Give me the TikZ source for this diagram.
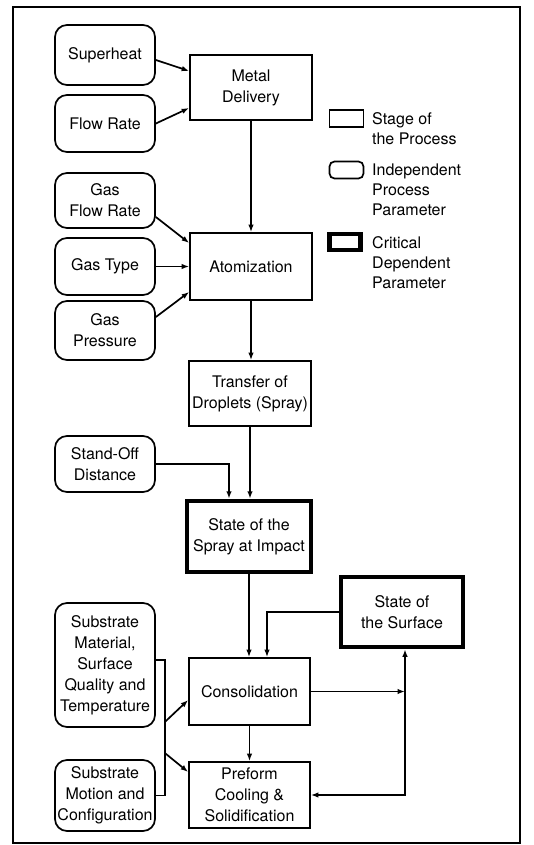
\documentclass[tikz,border=0pt]{standalone}
\usepackage{fontspec}
\setmainfont{TeX Gyre Heros}
\usetikzlibrary{arrows.meta,calc}
\begin{document}
\begin{tikzpicture}[x=1pt,y=-1pt,
  txt/.style={font=\fontsize{16}{21}\selectfont, align=center, inner sep=0pt},
  stagebox/.style={txt, draw, line width=1.7pt, outer sep=0.85pt, minimum width=121pt},
  parbox/.style={txt, draw, line width=1.7pt, outer sep=0.85pt, rounded corners=12pt, minimum width=100pt},
  critbox/.style={txt, draw, line width=4.5pt, outer sep=2.25pt, minimum width=122pt},
  conn/.style={line width=1.7pt},
  arr/.style={conn, -{Latex[length=7.5pt,width=5.5pt]}},
  legtext/.style={font=\fontsize{16}{20}\selectfont, align=left, inner sep=0pt, anchor=north west}]
\useasboundingbox (0,0) rectangle (534,845);
\draw[line width=1.7pt] (13,7) rectangle (520,843);

% independent parameters
\node[parbox, minimum height=60pt] (sh) at (105,55) {Superheat};
\node[parbox, minimum height=57pt] (fr) at (105,123.5) {Flow Rate};
\node[parbox, minimum height=55pt] (gfr) at (105,200.5) {Gas\\Flow Rate};
\node[parbox, minimum height=57pt] (gt) at (105,266.5) {Gas Type};
\node[parbox, minimum height=59pt] (gp) at (105,330.5) {Gas\\Pressure};
\node[parbox, minimum height=56pt] (so) at (105,464) {Stand-Off\\Distance};
\node[parbox, minimum height=124pt] (sm) at (105,665) {Substrate\\Material,\\Surface\\Quality and\\Temperature};
\node[parbox, minimum height=71pt] (smo) at (105,795.5) {Substrate\\Motion and\\Configuration};

% stages
\node[stagebox, minimum width=122pt, minimum height=65pt] (md) at (251,87.5) {Metal\\Delivery};
\node[stagebox, minimum width=122pt, minimum height=67pt] (at) at (251,266.5) {Atomization};
\node[stagebox, minimum width=122pt, minimum height=65pt] (tr) at (250,393.5) {Transfer of\\Droplets (Spray)};
\node[critbox, minimum width=124pt, minimum height=71pt] (sp) at (249,536.5) {State of the\\Spray at Impact};
\node[critbox, minimum height=70pt] (su) at (402,612) {State of\\the Surface};
\node[stagebox, minimum height=67pt] (co) at (249.5,691.5) {Consolidation};
\node[stagebox, minimum height=66pt] (pc) at (249.5,795) {Preform\\Cooling \&\\Solidification};

% connectors
\draw[arr] ([yshift=-5pt]sh.east) -- ([yshift=16.5pt]md.west);
\draw[arr] (fr.east) -- ([yshift=-20.5pt]md.west);
\draw[arr] (md.south) -- (md.south |- at.north);
\draw[arr] ([yshift=-16.5pt]gfr.east) -- ([yshift=23.5pt]at.west);
\draw[arr] (gt.east) -- (at.west);
\draw[arr] ([yshift=13.5pt]gp.east) -- ([yshift=-25.5pt]at.west);
\draw[arr] (at.south) -- (at.south |- tr.north);
\draw[arr] (tr.south) -- (tr.south |- sp.north);
\draw[arr] (so.east) -| ([xshift=-20pt]sp.north);
\draw[arr] (sp.south) -- (sp.south |- co.north);
\draw[arr] (su.west) -| ([xshift=17.5pt]co.north);
\coordinate (j) at ([xshift=3pt]su.south |- co.east);
\draw[arr] (co.east) -- (j);
\draw[arr] (j) -- (j |- su.south);
\draw[arr] (j) |- (pc.east);
\draw[arr] (co.south) -- (co.south |- pc.north);

% bracket of substrate parameters
\coordinate (b1) at ([xshift=9pt,yshift=5pt]sm.east);
\coordinate (b2) at (b1 |- smo.east);
\draw[conn] ([yshift=5pt]sm.east) -- (b1) -- (b2) -- (smo.east);
\coordinate (b3) at ([yshift=-62pt]b1);
\coordinate (b4) at ([yshift=-93pt]b1);
\draw[arr] (b3) -- ([yshift=-8.5pt]co.west);
\draw[arr] (b4) -- ([yshift=23pt]pc.west);

% legend
\node[stagebox, minimum width=34pt, minimum height=17pt] (l1) at (346.5,118.5) {};
\node[parbox, rounded corners=5pt, minimum width=34pt, minimum height=17pt] (l2) at (346.5,170) {};
\node[critbox, minimum width=31pt, minimum height=16pt] (l3) at (345,242) {};
\node[legtext] (t1) at (372,112) {Stage of\\the Process};
\node[legtext] (t2) at (372,164) {Independent\\Process\\Parameter};
\node[legtext] (t3) at (372,236) {Critical\\Dependent\\Parameter};
\end{tikzpicture}
\end{document}
